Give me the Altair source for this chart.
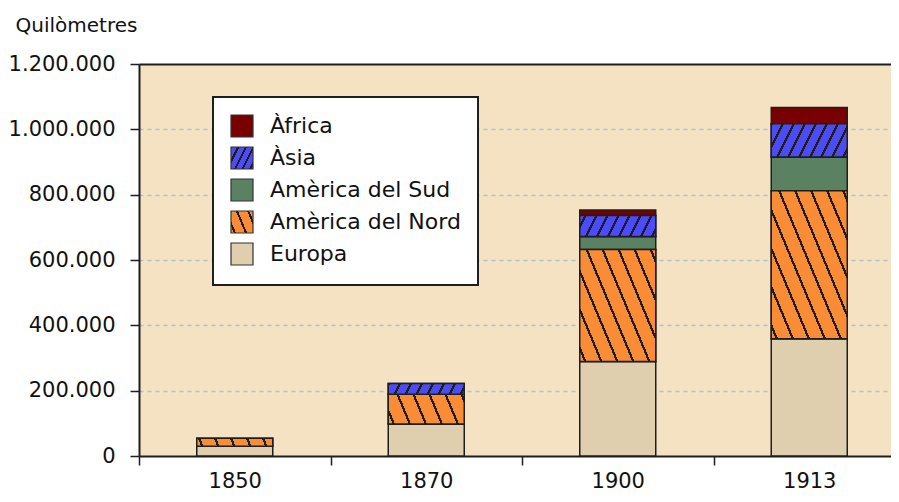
import math
import altair as alt
import pandas as pd

# ---- data ----
years = ["1850", "1870", "1900", "1913"]
regions = ["Europa", "Amèrica del Nord", "Amèrica del Sud", "Àsia", "Àfrica"]
europa = [30000, 98000, 289000, 359000]
america_nord = [24000, 91000, 343000, 453000]
america_sud = [0, 0, 40000, 103000]
asia = [0, 33000, 64000, 102000]
africa = [0, 0, 17000, 50000]
legend_order = ["Àfrica", "Àsia", "Amèrica del Sud", "Amèrica del Nord", "Europa"]
y_ticks = [0, 200000, 400000, 600000, 800000, 1000000, 1200000]

# ---- styles ----
region_colors = {
    "Europa": "#dfcfae",
    "Amèrica del Nord": "#fb8c36",
    "Amèrica del Sud": "#5a8262",
    "Àsia": "#4b4bf8",
    "Àfrica": "#780000",
}
# hatch style per region: (slope dy/dx in screen px, horizontal spacing px)
hatch_style = {"Amèrica del Nord": (2.4, 16), "Àsia": (-2.0, 11)}
FONT = "DejaVu Sans"
PLOT_W, PLOT_H = 752, 392
Y_MAX = 1200000
BAR_W = 76
LINE = "#1e1e1e"

series = [europa, america_nord, america_sud, asia, africa]
rows = []
for i, yr in enumerate(years):
    for k, (reg, vals) in enumerate(zip(regions, series)):
        if vals[i] > 0:
            rows.append({"year": yr, "region": reg, "ord": k, "value": vals[i]})
df = pd.DataFrame(rows)


def hatch(w, h, k, spacing, base, line=LINE, lw=2.2):
    """Linear gradient (bounding-box units) drawing parallel stripes of
    screen direction (1, k) with a horizontal spacing of `spacing` px."""
    corners = [(0, 0), (1, 0), (0, 1), (1, 1)]
    vals = sorted(((k * w * u - h * v), (u, v)) for u, v in corners)
    fmin, pmin = vals[0]
    fmax, _ = vals[-1]
    denom = (k * w) ** 2 + h ** 2
    c = (fmax - fmin) / denom
    x1, y1 = pmin
    x2, y2 = x1 + c * k * w, y1 - c * h
    span = fmax - fmin
    period = abs(k) * spacing
    half = lw * math.sqrt(k * k + 1) / 2
    stops = [{"offset": 0, "color": base}]
    fc = fmin + period * 0.35
    while fc - half < fmax:
        a = round(max(0.0, (fc - half - fmin) / span), 5)
        b = round(min(1.0, (fc + half - fmin) / span), 5)
        stops += [
            {"offset": a, "color": base},
            {"offset": a, "color": line},
            {"offset": b, "color": line},
            {"offset": b, "color": base},
        ]
        fc += period
    stops.append({"offset": 1, "color": base})
    return {"gradient": "linear", "x1": round(x1, 5), "y1": round(y1, 5),
            "x2": round(x2, 5), "y2": round(y2, 5), "stops": stops}


def grad_expr(g):
    stops = ",".join("{offset:%s,color:'%s'}" % (s["offset"], s["color"]) for s in g["stops"])
    return {"expr": "{gradient:'linear',x1:%s,y1:%s,x2:%s,y2:%s,stops:[%s]}" % (
        g["x1"], g["y1"], g["x2"], g["y2"], stops)}


# legend swatches: hatched for the hatched regions
legend_range = []
for r in legend_order:
    if r in hatch_style:
        s, sp = hatch_style[r]
        legend_range.append(grad_expr(hatch(22, 22, s, sp * 0.7, region_colors[r], lw=2.0)))
    else:
        legend_range.append(region_colors[r])

x_scale = alt.Scale(domain=years, range=[0, 766], paddingInner=0, paddingOuter=0)
y_scale = alt.Scale(domain=[0, Y_MAX], nice=False)

x_axis = alt.Axis(
    labelAngle=0, tickBand="extent", tickSize=9, tickColor=LINE, tickWidth=1.5,
    domainColor=LINE, domainWidth=2, labelFontSize=21, labelFont=FONT,
    labelPadding=5, labelColor="#111", grid=False, title=None,
)
TOP = "datum.value == 1200000"
y_axis = alt.Axis(
    values=y_ticks,
    labelExpr="replace(format(datum.value, ','), regexp(',', 'g'), '.')",
    tickSize=9, tickColor=LINE, tickWidth=1.5, labelPadding=15,
    labelFontSize=21, labelFont=FONT, labelColor="#111",
    domainColor=LINE, domainWidth=2,
    grid=True,
    gridColor={"condition": {"test": TOP, "value": LINE}, "value": "#b9bdc9"},
    gridDash={"condition": {"test": TOP, "value": []}, "value": [4, 4]},
    gridWidth={"condition": {"test": TOP, "value": 2}, "value": 1.5},
    gridOpacity={"condition": {"test": "datum.value == 0", "value": 0}, "value": 1},
    title="Quilòmetres", titleAngle=0, titleAlign="left", titleBaseline="alphabetic",
    titleX=-124, titleY=-33, titleFontSize=20, titleFont=FONT,
    titleFontWeight="normal", titleColor="#111",
)

base = alt.Chart(df).transform_stack(
    stack="value", groupby=["year"], as_=["y0", "y1"],
    sort=[alt.SortField("ord", order="ascending")],
)

bars = base.mark_bar(size=BAR_W, stroke=LINE, strokeWidth=1.5).encode(
    x=alt.X("year:N", scale=x_scale, axis=x_axis),
    y=alt.Y("y1:Q", scale=y_scale, axis=y_axis),
    y2="y0:Q",
    color=alt.Color(
        "region:N",
        scale=alt.Scale(domain=legend_order, range=legend_range),
        legend=alt.Legend(
            title=None, orient="none", legendX=74, legendY=33,
            fillColor="white", strokeColor=LINE, padding=17,
            symbolType="square", symbolSize=484, symbolStrokeColor="#333",
            symbolStrokeWidth=1.2, labelFontSize=22, labelFont=FONT,
            labelColor="#111", labelOffset=16, rowPadding=4, labelLimit=400,
        ),
    ),
)

layers = [bars]
px_per_unit = PLOT_H / Y_MAX
for reg, vals in [("Amèrica del Nord", america_nord), ("Àsia", asia)]:
    slope, spacing = hatch_style[reg]
    for yr, v in zip(years, vals):
        if v <= 0:
            continue
        grad = hatch(BAR_W, v * px_per_unit, slope, spacing, region_colors[reg])
        layers.append(
            base.transform_filter((alt.datum.year == yr) & (alt.datum.region == reg))
            .mark_bar(size=BAR_W, stroke=LINE, strokeWidth=1.5, fill=grad)
            .encode(
                x=alt.X("year:N", scale=x_scale, axis=x_axis),
                y=alt.Y("y1:Q", scale=y_scale, axis=y_axis),
                y2="y0:Q",
            )
        )

chart = (
    alt.layer(*layers)
    .properties(
        width=PLOT_W, height=PLOT_H,
        autosize=alt.AutoSizeParams(type="none"),
        padding={"left": 131, "top": 56, "right": 0, "bottom": 38},
        background="white",
    )
    .configure_view(fill="#f5e2c3", stroke=None)
    .configure_legend(strokeWidth=2)
)

chart.save("out.html", embed_options={"renderer": "svg", "actions": False})
